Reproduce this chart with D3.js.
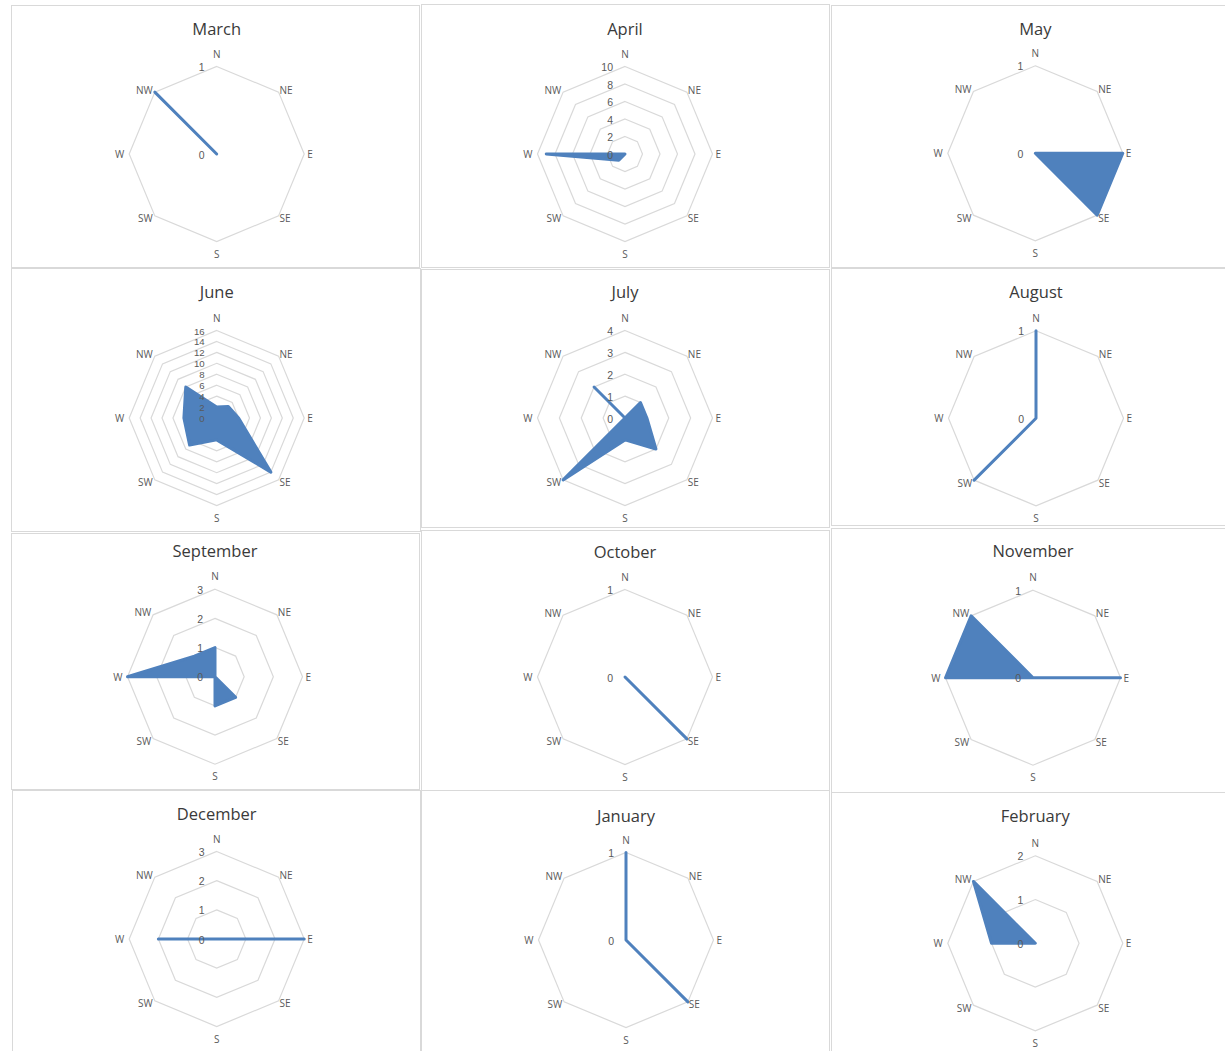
<!DOCTYPE html>
<html>
<head>
<meta charset="utf-8">
<script src="https://cdn.jsdelivr.net/npm/d3@7/dist/d3.min.js"></script>
<style>
  html, body { margin: 0; padding: 0; background: #ffffff; }
  svg { display: block; }
</style>
</head>
<body>
<svg id="chart" width="1225" height="1051"></svg>
<script>
// ---------- data ----------
const directions = ["N", "NE", "E", "SE", "S", "SW", "W", "NW"];
const months = ["March", "April", "May", "June", "July", "August",
                "September", "October", "November", "December", "January", "February"];

const march     = [0, 0, 0, 0, 0, 0, 0, 1];
const april     = [0, 0, 0, 0, 0, 1, 9, 0];
const may       = [0, 0, 1, 1, 0, 0, 0, 0];
const june      = [2, 3, 4, 14, 4, 7, 6, 8];
const july      = [0, 1, 1, 2, 1, 4, 0, 2];
const august    = [1, 0, 0, 0, 0, 1, 0, 0];
const september = [1, 0, 0, 1, 1, 0, 3, 1];
const october   = [0, 0, 0, 1, 0, 0, 0, 0];
const november  = [0, 0, 1, 0, 0, 0, 1, 1];
const december  = [0, 0, 3, 0, 0, 0, 2, 0];
const january   = [1, 0, 0, 1, 0, 0, 0, 0];
const february  = [0, 0, 0, 0, 0, 0, 1, 2];

const seriesValues = [march, april, may, june, july, august,
                      september, october, november, december, january, february];

// radial axis: maximum and major unit per month
const axisMax  = [1, 10, 1, 16, 4, 1, 3, 1, 1, 3, 1, 2];
const axisStep = [1,  2, 1,  2, 1, 1, 1, 1, 1, 1, 1, 1];

// ---------- layout (positions only) ----------
const panels = [
  {x: 11,  y: 5,   w: 408, h: 262, cx: 216.7,  cy: 154,   ty: 28},
  {x: 421, y: 4,   w: 408, h: 263, cx: 625,    cy: 154,   ty: 28},
  {x: 831, y: 5,   w: 404, h: 262, cx: 1035.3, cy: 153.3, ty: 28},
  {x: 11,  y: 268, w: 409, h: 263, cx: 216.7,  cy: 418,   ty: 291.5},
  {x: 421, y: 269, w: 408, h: 258, cx: 625,    cy: 418,   ty: 291},
  {x: 831, y: 268, w: 404, h: 257, cx: 1036,   cy: 418.3, ty: 291},
  {x: 11,  y: 533, w: 408, h: 256, cx: 215,    cy: 676.7, ty: 550},
  {x: 421, y: 530, w: 408, h: 260, cx: 625,    cy: 677,   ty: 551},
  {x: 831, y: 528, w: 404, h: 264, cx: 1033,   cy: 677.7, ty: 550},
  {x: 12,  y: 790, w: 408, h: 275, cx: 216.7,  cy: 939,   ty: 813},
  {x: 421, y: 790, w: 408, h: 275, cx: 626,    cy: 940,   ty: 815},
  {x: 831, y: 792, w: 404, h: 275, cx: 1035.3, cy: 943.3, ty: 815.7}
];

const R = 87.5;
const FILL = "#4f81bd";
const GRID = "#d9d9d9";
const TEXT = "#595959";
const FONT = "'Open Sans', 'Noto Sans', sans-serif";
const TICK_FONT = "'Liberation Sans', Arial, sans-serif";

const svg = d3.select("#chart");

const angle = d3.scaleLinear().domain([0, directions.length]).range([0, 2 * Math.PI]);

months.forEach((month, m) => {
  const p = panels[m];
  const values = seriesValues[m];
  const r = d3.scaleLinear().domain([0, axisMax[m]]).range([0, R]);
  const ticks = d3.range(0, axisMax[m] + axisStep[m] / 2, axisStep[m]);
  const tickGap = r(axisStep[m]);
  const tickFont = Math.min(10.5, tickGap * 0.88);

  // panel frame
  svg.append("rect")
    .attr("x", p.x + 0.5).attr("y", p.y + 0.5)
    .attr("width", p.w).attr("height", p.h)
    .attr("fill", "#ffffff").attr("stroke", GRID).attr("stroke-width", 1);

  // title
  svg.append("text")
    .attr("x", p.cx).attr("y", p.ty)
    .attr("text-anchor", "middle").attr("dominant-baseline", "central")
    .attr("font-family", FONT).attr("font-size", 16.5)
    .attr("fill", "#3a3a3a")
    .text(month);

  const g = svg.append("g").attr("transform", `translate(${p.cx},${p.cy})`);

  // grid octagons
  const ring = d3.lineRadial()
    .angle((d, i) => angle(i))
    .radius(d => d)
    .curve(d3.curveLinearClosed);
  ticks.filter(t => t > 0).forEach(t => {
    g.append("path")
      .attr("d", ring(directions.map(() => r(t))))
      .attr("fill", "none").attr("stroke", GRID).attr("stroke-width", 1.2);
  });

  // series (filled radar)
  const area = d3.lineRadial()
    .angle((d, i) => angle(i))
    .radius(d => r(d))
    .curve(d3.curveLinearClosed);
  g.append("path")
    .attr("d", area(values))
    .attr("fill", FILL).attr("stroke", FILL)
    .attr("stroke-width", 3).attr("stroke-linejoin", "round").attr("stroke-linecap", "round");

  // tick labels along N axis
  g.selectAll("text.tick").data(ticks).enter().append("text")
    .attr("class", "tick")
    .attr("x", -12)
    .attr("y", d => -r(d) + 0.5)
    .attr("text-anchor", "end").attr("dominant-baseline", "central")
    .attr("font-family", TICK_FONT).attr("font-size", tickFont)
    .attr("fill", TEXT)
    .text(d => d);

  // category labels
  directions.forEach((dir, i) => {
    const a = angle(i);
    const vx = Math.sin(a) * R, vy = -Math.cos(a) * R;
    let x = vx, y = vy, anchor = "middle";
    if (dir === "N") { y = vy - 13; }
    else if (dir === "S") { y = vy + 12; }
    else if (dir === "E") { x = vx + 3; anchor = "start"; }
    else if (dir === "W") { x = vx - 5; anchor = "end"; }
    else if (dir === "NE") { x = vx + 1; y = vy - 2.5; anchor = "start"; }
    else if (dir === "SE") { x = vx + 1; y = vy + 2.5; anchor = "start"; }
    else if (dir === "NW") { x = vx - 2; y = vy - 2.5; anchor = "end"; }
    else if (dir === "SW") { x = vx - 2; y = vy + 2.5; anchor = "end"; }
    g.append("text")
      .attr("x", x).attr("y", y)
      .attr("text-anchor", anchor).attr("dominant-baseline", "central")
      .attr("font-family", FONT).attr("font-size", 10)
      .attr("fill", TEXT)
      .text(dir);
  });
});
</script>
</body>
</html>
